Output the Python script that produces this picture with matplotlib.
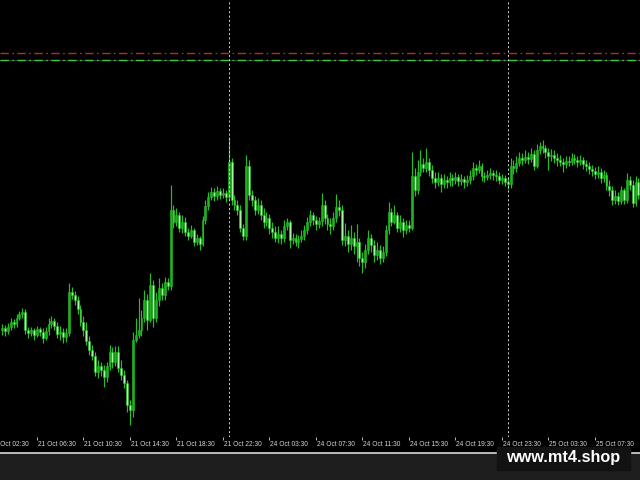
import numpy as np
import matplotlib.pyplot as plt
from matplotlib import font_manager
from matplotlib.patches import Rectangle

# M15 candles, price in points
first_open = 107
close = [109, 106, 110, 115, 113, 119, 123, 125, 107, 104, 107, 102, 108, 105, 99, 106,
         113, 116, 111, 103, 105, 100, 104, 145, 142, 137, 128, 115, 107, 96, 87, 81,
         65, 71, 67, 60, 71, 85, 75, 85, 69, 62, 54, 32, 27, 97, 102, 107,
         119, 137, 117, 152, 119, 137, 149, 142, 155, 151, 227, 215, 222, 209, 215, 205,
         201, 207, 195, 199, 193, 217, 231, 240, 245, 241, 246, 242, 244, 240, 275, 237,
         232, 227, 209, 201, 271, 242, 237, 227, 232, 222, 215, 219, 209, 205, 199, 203,
         199, 211, 215, 197, 199, 195, 198, 201, 207, 215, 222, 217, 213, 216, 232, 219,
         213, 211, 219, 230, 227, 197, 201, 193, 199, 191, 195, 179, 175, 187, 199, 192,
         182, 187, 179, 185, 207, 225, 215, 222, 209, 215, 207, 212, 209, 261, 247, 265,
         273, 269, 275, 267, 259, 255, 259, 253, 257, 255, 259, 257, 260, 256, 258, 255,
         257, 261, 269, 267, 271, 261, 260, 262, 264, 262, 261, 257, 259, 255, 253, 271,
         269, 274, 279, 277, 280, 278, 283, 271, 287, 291, 289, 285, 281, 282, 279, 277,
         275, 273, 276, 275, 279, 277, 275, 277, 273, 271, 268, 266, 263, 265, 259, 262,
         251, 247, 237, 241, 236, 247, 237, 257, 252, 234, 255, 242]
high = [113, 112, 114, 119, 118, 123, 126, 129, 128, 110, 110, 109, 111, 110, 109, 110,
        119, 121, 119, 115, 111, 109, 109, 154, 150, 146, 141, 132, 121, 115, 101, 92,
        85, 77, 75, 72, 75, 92, 90, 91, 91, 77, 67, 57, 37, 105, 119, 139,
        127, 147, 143, 164, 157, 145, 159, 154, 160, 159, 252, 232, 229, 225, 222, 220,
        209, 212, 209, 203, 201, 221, 237, 245, 250, 249, 251, 249, 249, 247, 300, 279,
        242, 237, 232, 213, 282, 277, 247, 241, 239, 237, 229, 225, 223, 215, 211, 211,
        207, 217, 219, 217, 204, 203, 202, 207, 212, 220, 227, 225, 221, 220, 244, 237,
        223, 219, 225, 243, 237, 232, 214, 207, 212, 205, 213, 199, 185, 193, 207, 203,
        197, 195, 192, 191, 212, 235, 229, 232, 225, 222, 219, 217, 217, 285, 269, 277,
        287, 279, 289, 279, 272, 265, 265, 263, 263, 261, 265, 263, 265, 263, 263, 261,
        262, 267, 275, 273, 277, 274, 265, 267, 269, 267, 267, 265, 263, 262, 260, 279,
        277, 281, 285, 284, 287, 285, 289, 287, 293, 295, 297, 292, 289, 288, 287, 284,
        282, 279, 281, 281, 284, 283, 281, 282, 280, 277, 275, 272, 270, 271, 269, 267,
        265, 257, 251, 247, 245, 251, 249, 264, 261, 257, 261, 259]
low = [102, 101, 103, 107, 109, 110, 117, 119, 103, 99, 101, 97, 100, 101, 94, 97,
       102, 109, 107, 99, 97, 94, 95, 101, 138, 132, 123, 111, 101, 92, 82, 77,
       61, 59, 61, 50, 55, 67, 69, 71, 65, 57, 49, 25, 12, 20, 95, 99,
       101, 115, 107, 115, 110, 115, 131, 137, 137, 147, 147, 209, 211, 205, 204, 201,
       197, 199, 191, 192, 187, 191, 213, 227, 237, 236, 237, 238, 239, 235, 237, 232,
       227, 222, 205, 197, 197, 237, 231, 222, 223, 217, 209, 211, 203, 199, 195, 194,
       193, 195, 207, 189, 193, 191, 189, 195, 197, 203, 211, 212, 207, 209, 211, 213,
       207, 203, 207, 215, 221, 192, 191, 185, 187, 183, 175, 171, 164, 169, 183, 185,
       175, 177, 173, 175, 181, 203, 211, 213, 205, 205, 200, 203, 205, 207, 241, 243,
       261, 265, 265, 261, 254, 249, 251, 245, 249, 249, 251, 251, 253, 251, 252, 249,
       251, 253, 257, 262, 264, 256, 255, 257, 258, 257, 256, 253, 253, 251, 248, 249,
       263, 265, 271, 272, 274, 273, 275, 267, 269, 283, 284, 279, 267, 276, 274, 271,
       271, 265, 269, 271, 272, 273, 270, 272, 268, 266, 263, 261, 258, 259, 254, 255,
       247, 241, 232, 233, 232, 233, 233, 234, 247, 230, 231, 238]

tick_labels = ['21 Oct 02:30', '21 Oct 06:30', '21 Oct 10:30', '21 Oct 14:30',
               '21 Oct 18:30', '21 Oct 22:30', '24 Oct 03:30', '24 Oct 07:30',
               '24 Oct 11:30', '24 Oct 15:30', '24 Oct 19:30', '24 Oct 23:30',
               '25 Oct 03:30', '25 Oct 07:30']
tick_pos = [-4, 12, 28, 44, 60, 76, 92, 108, 124, 140, 156, 172, 188, 204]
day_breaks = [78, 174]
red_level = 384
green_level = 377.5

close = np.array(close)
high = np.array(high)
low = np.array(low)
opn = np.concatenate([[first_open], close[:-1]])
x = np.arange(len(close))

# narrow font for the time scale if there is one
names = {f.name for f in font_manager.fontManager.ttflist}
if 'Liberation Sans Narrow' in names:
    tick_font, tick_size = 'Liberation Sans Narrow', 5.2
else:
    tick_font, tick_size = 'Liberation Sans', 4.8

fig = plt.figure(figsize=(6.4, 4.8), dpi=100, facecolor='black')
# grey strip under the time scale
fig.patches.append(Rectangle((0, 0), 1, 27 / 480, transform=fig.transFigure,
                             color='#1e1e1e', zorder=0))
fig.add_artist(plt.Line2D([0, 1], [27 / 480, 27 / 480], color='#e8e8e8', lw=1.1))

ax = fig.add_axes([0, 43 / 480, 1, 437 / 480])
ax.set_facecolor('black')
ax.set_zorder(1)

wick = '#22c022'
ax.vlines(x, low, high, color=wick, lw=0.85, zorder=3)
up = close >= opn
body_col = np.where(up, '#20b020', '#a4f8a4')
ax.bar(x, close - opn, bottom=opn, width=0.66, color=body_col,
       edgecolor=wick, linewidth=0.4, zorder=4)

ax.axhline(green_level - 0.8, color='#505050', lw=0.5, zorder=2)
ax.axhline(red_level, color='#d02020', lw=1.0, ls=(0, (6, 2.5, 1.2, 2.5)), zorder=2)
ax.axhline(green_level, color='#40c840', lw=1.0, ls=(0, (6, 2.5, 1.2, 2.5)), zorder=2)

for d in day_breaks:
    ax.axvline(d, color='#d8d8d8', lw=0.7, ls=(0, (2, 2.5)), zorder=5)

ax.set_yticks([])
ax.set_xticks(tick_pos)
ax.set_xticklabels([])
ax.set_xlim(-0.69, 219.54)
ax.set_ylim(0, 437)
ax.tick_params(axis='x', length=2.5, width=0.7, color='#b8b8b8')
for s in ax.spines.values():
    s.set_visible(False)

for p, lab in zip(tick_pos, tick_labels):
    ax.annotate(lab, xy=(p, 0), xycoords=ax.get_xaxis_transform(),
                xytext=(0.8, -2.8), textcoords='offset points',
                ha='left', va='top', fontsize=tick_size, family=tick_font,
                color='#d4d4d4', annotation_clip=False)

# watermark box
fig.patches.append(Rectangle((497 / 640, 10 / 480), 133 / 640, 23 / 480,
                             transform=fig.transFigure, color='#121212', zorder=5))
fig.text(563 / 640, 18 / 480, 'www.mt4.shop', ha='center', va='baseline',
         fontsize=11.7, fontweight='bold', family='Liberation Sans',
         color='white', zorder=6)

fig.savefig('out.png', dpi=100, facecolor=fig.get_facecolor())
